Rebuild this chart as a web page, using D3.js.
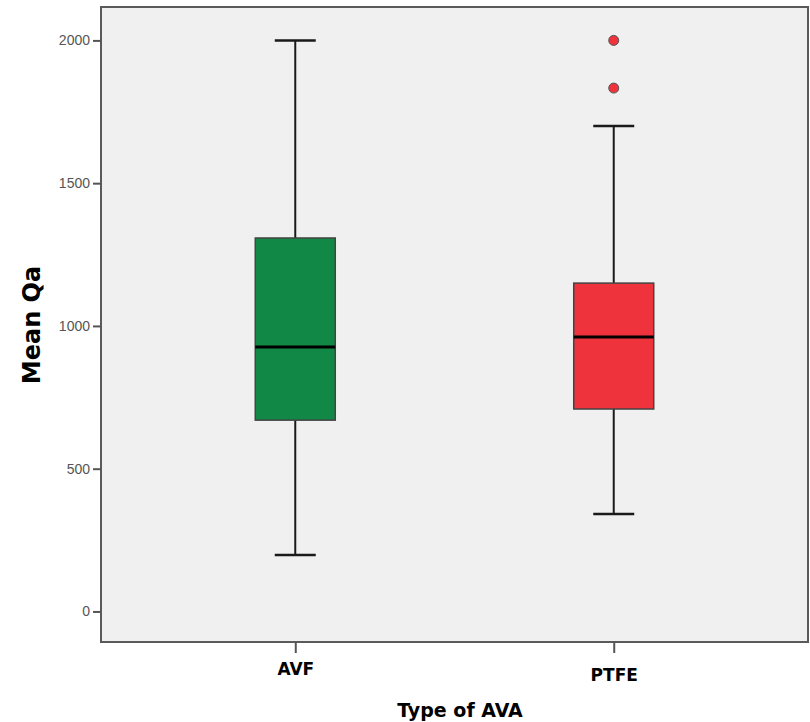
<!DOCTYPE html>
<html><head><meta charset="utf-8">
<script src="https://cdn.jsdelivr.net/npm/d3@7"></script>
<style>body{margin:0;background:#fff}</style>
</head><body>
<svg id="c" width="810" height="722"></svg>
<script>
const categories = ["AVF", "PTFE"];
const whiskerLow = [198, 341];
const q1 = [670, 709];
const median = [926, 961];
const q3 = [1308, 1150];
const whiskerHigh = [2000, 1700];
const outliers = [[], [1833, 2000]];
const colors = ["#128847", "#ef333d"];
const yTicks = [0, 500, 1000, 1500, 2000];

const svg = d3.select("#c");
const L = 101, R = 808, T = 7, B = 642;
const x = d3.scalePoint().domain(categories).range([L, R]).padding(0.61);
const y = d3.scaleLinear().domain([-107, 2117]).range([B, T]);

svg.append("rect").attr("x", L).attr("y", T).attr("width", R - L).attr("height", B - T)
  .attr("fill", "#f0f0f0").attr("stroke", "#5a5a5a").attr("stroke-width", 2);

const yAxis = svg.append("g").attr("transform", `translate(${L},0)`)
  .call(d3.axisLeft(y).tickValues(yTicks).tickSize(8).tickPadding(3).tickFormat(d3.format("d")));
yAxis.select(".domain").remove();
yAxis.selectAll("line").attr("stroke", "#555").attr("stroke-width", 2);
yAxis.selectAll("text").attr("fill", "#555").style("font-family", "Liberation Sans Narrow, Arial, sans-serif").style("font-size", "14px");

const xAxis = svg.append("g").attr("transform", `translate(0,${B})`)
  .call(d3.axisBottom(x).tickSize(11).tickPadding(10));
xAxis.select(".domain").remove();
xAxis.selectAll("line").attr("stroke", "#555").attr("stroke-width", 2);
xAxis.selectAll("text").attr("fill", "#000").style("font-family", "DejaVu Sans, Verdana, sans-serif")
  .style("font-weight", "bold").style("font-size", "17px")
  .attr("dy", (d, i) => i === 0 ? "0.71em" : "1.05em");

const boxW = 80, capW = 41;
const g = svg.append("g");
categories.forEach((c, i) => {
  const cx = x(c);
  g.append("line").attr("x1", cx).attr("x2", cx).attr("y1", y(whiskerHigh[i])).attr("y2", y(q3[i]))
    .attr("stroke", "#1a1a1a").attr("stroke-width", 2);
  g.append("line").attr("x1", cx).attr("x2", cx).attr("y1", y(q1[i])).attr("y2", y(whiskerLow[i]))
    .attr("stroke", "#1a1a1a").attr("stroke-width", 2);
  [whiskerHigh[i], whiskerLow[i]].forEach(v => {
    g.append("line").attr("x1", cx - capW / 2).attr("x2", cx + capW / 2).attr("y1", y(v)).attr("y2", y(v))
      .attr("stroke", "#1a1a1a").attr("stroke-width", 2.5);
  });
  g.append("rect").attr("x", cx - boxW / 2).attr("width", boxW)
    .attr("y", y(q3[i])).attr("height", y(q1[i]) - y(q3[i]))
    .attr("fill", colors[i]).attr("stroke", "#444").attr("stroke-width", 1.5);
  g.append("line").attr("x1", cx - boxW / 2).attr("x2", cx + boxW / 2).attr("y1", y(median[i])).attr("y2", y(median[i]))
    .attr("stroke", "#000").attr("stroke-width", 3);
  outliers[i].forEach(v => {
    g.append("circle").attr("cx", cx).attr("cy", y(v)).attr("r", 5)
      .attr("fill", colors[i]).attr("stroke", "#555").attr("stroke-width", 1);
  });
});

svg.append("text").attr("transform", "translate(32,325) rotate(-90)").attr("text-anchor", "middle")
  .style("font-family", "DejaVu Sans, Verdana, sans-serif").style("font-weight", "bold").style("font-size", "24px")
  .attr("dy", "0.35em").text("Mean Qa");
svg.append("text").attr("x", 460).attr("y", 710).attr("text-anchor", "middle").attr("dy", "0.35em")
  .style("font-family", "DejaVu Sans, Verdana, sans-serif").style("font-weight", "bold").style("font-size", "19px")
  .text("Type of AVA");
</script>
</body></html>
